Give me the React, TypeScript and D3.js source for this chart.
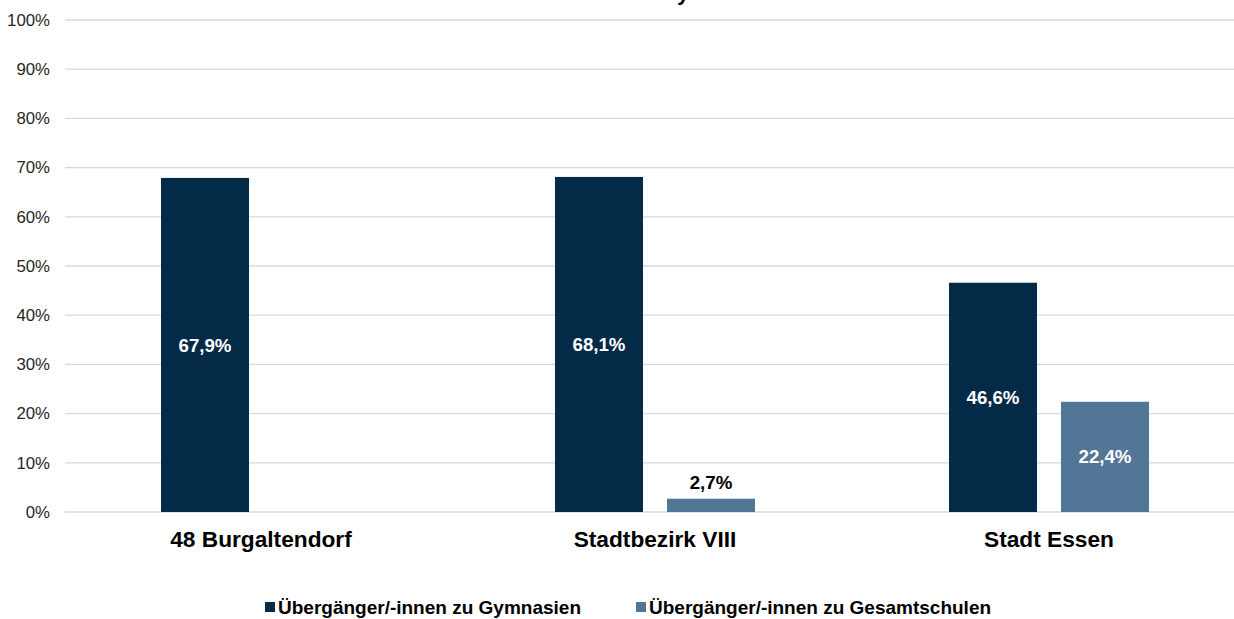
import React from 'react';
import * as d3 from 'd3';

const categories = ['48 Burgaltendorf', 'Stadtbezirk VIII', 'Stadt Essen'];
const seriesNames = ['Übergänger/-innen zu Gymnasien', 'Übergänger/-innen zu Gesamtschulen'];
const gymnasien = [67.9, 68.1, 46.6];
const gesamtschulen: (number | null)[] = [null, 2.7, 22.4];
const yTicks = [0, 10, 20, 30, 40, 50, 60, 70, 80, 90, 100];
const colors = ['#032A47', '#527695'];

const width = 1234;
const height = 619;
const margin = { top: 20, left: 64, right: -12, bottom: 107 };

const fmt = (v: number) => v.toFixed(1).replace('.', ',') + '%';

export default function App() {
  const plotBottom = height - margin.bottom;
  const y = d3.scaleLinear().domain([0, 100]).range([plotBottom, margin.top]);
  const x0 = d3
    .scaleBand<string>()
    .domain(categories)
    .range([margin.left, width - margin.right]);
  const x1 = d3
    .scaleBand<string>()
    .domain(seriesNames)
    .range([0, x0.bandwidth()])
    .paddingInner(0.2143)
    .paddingOuter(0.866);

  const rows = categories.map((c, i) => ({
    cat: c,
    values: [gymnasien[i], gesamtschulen[i]],
  }));

  const font = 'Liberation Sans, Arial, sans-serif';

  return (
    <svg
      width={width}
      height={height}
      style={{ position: 'absolute', left: 0, top: 0, background: '#fff' }}
      fontFamily={font}
    >
      {/* cut-off title */}
      <text x={683} y={0} fontSize={22} fontWeight="bold" fill="#000" textAnchor="middle">
        y
      </text>

      {yTicks.map((t) => (
        <g key={t}>
          <line x1={65} x2={width} y1={y(t)} y2={y(t)} stroke="#D9D9D9" strokeWidth={1.3} />
          <text x={50} y={y(t)} dy="0.35em" textAnchor="end" fontSize={16.8} fill="#262626">
            {t}%
          </text>
        </g>
      ))}

      {rows.map((r) => (
        <g key={r.cat} transform={`translate(${x0(r.cat)},0)`}>
          {r.values.map((v, j) => {
            if (v == null) return null;
            const bx = x1(seriesNames[j])!;
            const bw = x1.bandwidth();
            const top = y(v);
            const h = plotBottom - top;
            const inside = h > 30;
            return (
              <g key={j}>
                <rect x={bx} y={top} width={bw} height={h} fill={colors[j]} />
                <text
                  x={bx + bw / 2}
                  y={inside ? top + h / 2 : top - 10}
                  dy={inside ? '0.35em' : 0}
                  textAnchor="middle"
                  fontSize={18.7}
                  fontWeight="bold"
                  fill={inside ? '#fff' : '#000'}
                >
                  {fmt(v)}
                </text>
              </g>
            );
          })}
          <text
            x={x0.bandwidth() / 2}
            y={547}
            textAnchor="middle"
            fontSize={22.7}
            fontWeight="bold"
            fill="#000"
          >
            {r.cat}
          </text>
        </g>
      ))}

      {seriesNames.map((s, i) => {
        const lx = [265, 636][i];
        return (
          <g key={s}>
            <rect x={lx} y={602} width={10} height={10} fill={colors[i]} />
            <text x={lx + 13} y={614} fontSize={19} fontWeight="bold" fill="#000">
              {s}
            </text>
          </g>
        );
      })}
    </svg>
  );
}
